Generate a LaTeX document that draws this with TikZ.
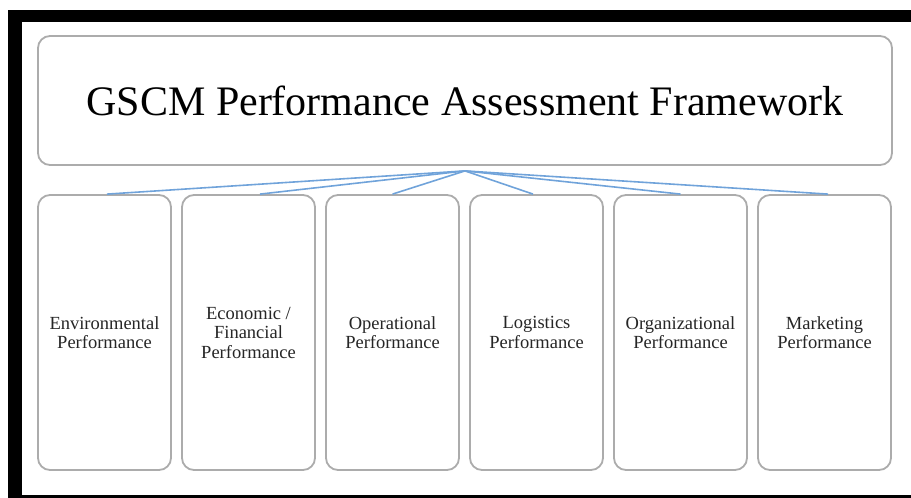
\documentclass[tikz,border=0pt]{standalone}
\usepackage{fontspec}
\setmainfont{Liberation Serif}
\usepackage{xcolor}
\usepackage{tikz}
\usetikzlibrary{positioning}
\definecolor{linkblue}{RGB}{112,163,218}
\definecolor{boxgray}{RGB}{172,172,172}
\tikzset{
  frame/.style={rounded corners=12pt, draw=boxgray, line width=1.8pt, fill=white},
  headbox/.style={frame, minimum width=854pt, minimum height=129pt,
                  font=\fontsize{42}{46}\selectfont},
  perfbox/.style={frame, minimum width=133pt, minimum height=275pt, align=center,
                  text=black!85, font=\fontsize{18.5}{19.5}\selectfont},
  link/.style={linkblue, line width=1.6pt},
}

\begin{document}
\begin{tikzpicture}[x=1pt, y=-1pt]
\useasboundingbox (0,0) rectangle (911,498);
% page border, cut off on the right
\fill[black] (8,10) rectangle (22,498);
\fill[black] (8,10) rectangle (911,22);
\fill[black] (8,495) rectangle (911,498);

\node[headbox] (head) at (465,100.5) {GSCM Performance Assessment Framework};

\node[perfbox] (env)  at (104.5,332.5) {Environmental\\Performance};
\node[perfbox] (econ) at (248.5,332.5) {Economic /\\Financial\\Performance};
\node[perfbox] (oper) at (392.5,332.5) {Operational\\Performance};
\node[perfbox] (logi) at (536.5,332.5) {Logistics\\Performance};
\node[perfbox] (orga) at (680.5,332.5) {Organizational\\Performance};
\node[perfbox] (mark) at (824.5,332.5) {Marketing\\Performance};

% fan of links from under the header
\coordinate (hub) at ([yshift=-5pt]head.south);
\draw[link] (hub) -- ([xshift=2.5pt]env.north);
\draw[link] (hub) -- ([xshift=11.5pt]econ.north);
\draw[link] (hub) -- (oper.north);
\draw[link] (hub) -- ([xshift=-3.5pt]logi.north);
\draw[link] (hub) -- (orga.north);
\draw[link] (hub) -- ([xshift=3.5pt]mark.north);
\end{tikzpicture}
\end{document}
